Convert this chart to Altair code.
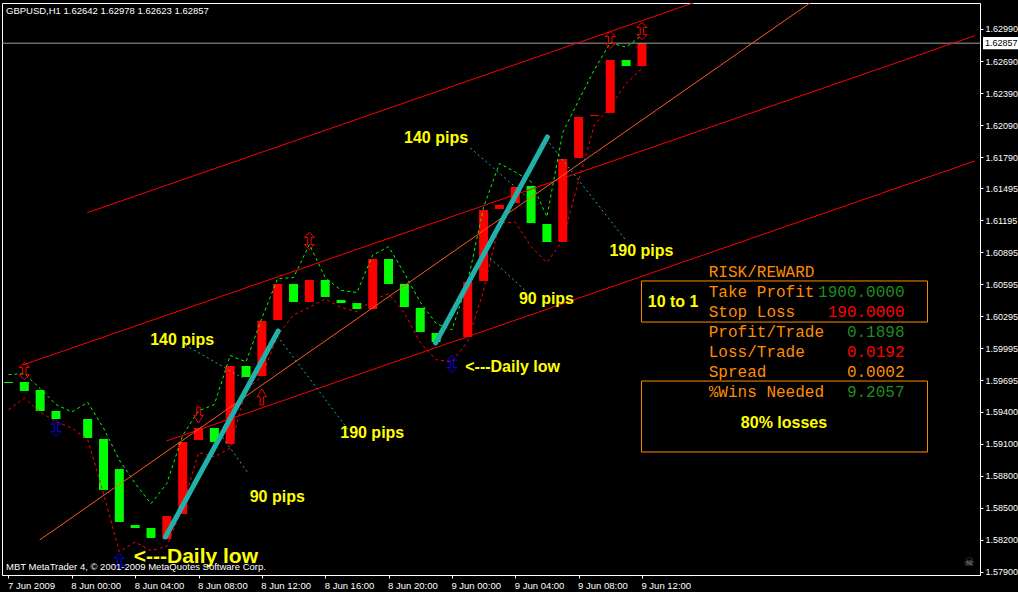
import json
import altair as alt
import pandas as pd

# ---- GBPUSD H1 bars, index 0 = 7 Jun 2009 20:00, index 40 = 9 Jun 2009 12:00 ----
bar_open = [1.59681, 1.59681, 1.59606, 1.59409, 1.59334, 1.59334, 1.59147, 1.58865, 1.58340, 1.58312,
            1.58209, 1.58444, 1.59137, 1.59250, 1.59100, 1.59831, 1.59737, 1.60262, 1.60600, 1.60431,
            1.60637, 1.60450, 1.60421, 1.60365, 1.60834, 1.60600, 1.60375, 1.60140, 1.60080, 1.60103,
            1.60628, 1.61303, 1.61359, 1.61518, 1.61162, 1.60993, 1.61781, 1.62174, 1.62203, 1.62699,
            1.62642]
bar_close = [1.59672, 1.59597, 1.59409, 1.59334, 1.59334, 1.59156, 1.58669, 1.58369, 1.58312, 1.58219,
             1.58425, 1.59119, 1.59250, 1.59119, 1.59831, 1.59728, 1.60253, 1.60600, 1.60431, 1.60637,
             1.60478, 1.60421, 1.60365, 1.60834, 1.60600, 1.60384, 1.60150, 1.60056, 1.60080, 1.60618,
             1.61293, 1.61340, 1.61509, 1.61171, 1.60993, 1.61771, 1.62165, 1.62184, 1.62699, 1.62643,
             1.62857]

# upper / lower envelope indicator (dashed)
band_high = [1.5975, 1.5976, 1.5962, 1.5947, 1.5940, 1.5949, 1.5925, 1.5895, 1.5873, 1.5854,
             1.5873, 1.5918, 1.5941, 1.5947, 1.5993, 1.5987, 1.6028, 1.6065, 1.6066, 1.6097,
             1.6066, 1.6054, 1.6052, 1.6087, 1.6095, 1.6070, 1.6043, 1.6023, 1.6017, 1.6062,
             1.6132, 1.6173, 1.6165, 1.6156, 1.6123, 1.6202, 1.6232, 1.6261, 1.6286, 1.6282,
             1.6293]
band_low = [1.5942, 1.5953, 1.5940, 1.5931, 1.5925, 1.5914, 1.5864, 1.5809, 1.5818, 1.5810,
            1.5814, 1.5851, 1.5902, 1.5898, 1.5906, 1.5961, 1.5973, 1.6012, 1.6031, 1.6038,
            1.6046, 1.6038, 1.6034, 1.6045, 1.6051, 1.6033, 1.6005, 1.5989, 1.5987, 1.6006,
            1.6054, 1.6117, 1.6118, 1.6095, 1.6080, 1.6101, 1.6157, 1.6209, 1.6226, 1.6248,
            1.6262]

# fractals
fractal_up_bar = [1, 19, 38, 40]
fractal_up_price = [1.59784, 1.61003, 1.62887, 1.62971]
fractal_dn_bar = [3, 7, 28]
fractal_dn_price = [1.59250, 1.57994, 1.59850]

# entry signal arrows
sell_arrow_bar, sell_arrow_price = [12], [1.59372]
buy_arrow_bar, buy_arrow_price = [16], [1.59540]

# axes
time_ticks = [0, 4, 8, 12, 16, 20, 24, 28, 32, 36, 40]
time_labels = ["7 Jun 2009", "8 Jun 00:00", "8 Jun 04:00", "8 Jun 08:00", "8 Jun 12:00",
               "8 Jun 16:00", "8 Jun 20:00", "9 Jun 00:00", "9 Jun 04:00", "9 Jun 08:00",
               "9 Jun 12:00"]
price_ticks = [1.62990, 1.62690, 1.62390, 1.62090, 1.61790, 1.61495, 1.61195, 1.60895, 1.60595,
               1.60295, 1.59995, 1.59695, 1.59400, 1.59100, 1.58800, 1.58500, 1.58200, 1.57900]
last_price = 1.62857

# trend lines: (bar, price) start and end
channel_lines = [
    ("top", 4.97, 1.61268, 47.00, 1.63428),
    ("mid", 0.90, 1.59840, 61.03, 1.62928),
    ("low", 9.97, 1.59128, 61.03, 1.61753),
]
steep_line = [("steep", 1.97, 1.58200, 52.00, 1.63378)]
impulse_lines = [
    ("imp1", 9.91, 1.58228, 17.03, 1.60159),
    ("imp2", 26.97, 1.60047, 34.03, 1.61978),
]
target_lines = [
    ("t1a", 11.16, 1.60028, 14.78, 1.59719),
    ("t1b", 16.97, 1.60112, 21.47, 1.59231),
    ("t1c", 13.53, 1.59162, 15.09, 1.58834),
    ("t2a", 29.16, 1.61875, 32.59, 1.61434),
    ("t2b", 34.16, 1.61921, 38.97, 1.61012),
    ("t2c", 30.41, 1.60843, 32.72, 1.60525),
]

# annotations
pip_text = ["140 pips", "190 pips", "90 pips", "140 pips", "190 pips", "90 pips", "10 to 1", "80% losses"]
pip_bar = [10.97, 22.97, 16.97, 27.00, 39.97, 33.97, 41.97, 48.97]
pip_price = [1.60075, 1.59203, 1.58603, 1.61968, 1.60909, 1.60459, 1.60431, 1.59297]
low_text = ["<---Daily low", "<---Daily low"]
low_bar = [7.91, 28.84]
low_price = [1.58040, 1.59822]
low_size = [21, 16]

info_labels = ["RISK/REWARD", "Take Profit", "Stop Loss", "Profit/Trade", "Loss/Trade", "Spread", "%Wins Needed"]
info_values = ["", "1900.0000", "190.0000", "0.1898", "0.0192", "0.0002", "9.2057"]
info_value_colors = ["#FF8C00", "#1E8C1E", "#FF0000", "#1E8C1E", "#FF0000", "#FF8C00", "#1E8C1E"]
info_row_price = [1.60712, 1.60525, 1.60337, 1.60150, 1.59962, 1.59775, 1.59587]
info_label_bar = 44.22
info_value_bar = 56.58
info_boxes = [(39.97, 58.03, 1.60628, 1.60243), (39.97, 58.03, 1.59690, 1.59025)]

# ---- scales and axes (identical on every layer so they merge cleanly) ----
xs = alt.Scale(domain=[-0.09375, 61.03125], nice=False, zero=False)
ys = alt.Scale(domain=[1.578717, 1.632337], nice=False, zero=False)
label_expr = json.dumps(time_labels) + "[round(datum.value / 4)]"

x_axis = alt.Axis(values=time_ticks, labelExpr=label_expr, title=None, grid=False,
                  tickSize=3, tickColor="white", domainColor="white", labelColor="white",
                  labelFont="Liberation Sans", labelFontSize=9.5, labelAlign="left",
                  labelBaseline="top", labelPadding=2, labelFlush=False, labelOverlap=False,
                  labelBound=False, labelOffset=-1)
y_axis = alt.Axis(orient="right", values=price_ticks, format=".5f", title=None, grid=False,
                  tickSize=3, tickColor="white", domainColor="white", labelColor="white",
                  labelFont="Liberation Sans", labelFontSize=9, labelPadding=2,
                  labelOverlap=False, labelFlush=False, labelBound=False)


def X(field):
    return alt.X(field, type="quantitative", scale=xs, axis=x_axis)


def Y(field):
    return alt.Y(field, type="quantitative", scale=ys, axis=y_axis)


def segs(rows):
    out = []
    for name, k0, p0, k1, p1 in rows:
        out.append({"id": name, "k": k0, "p": p0, "o": 0})
        out.append({"id": name, "k": k1, "p": p1, "o": 1})
    return pd.DataFrame(out)


bars = pd.DataFrame({
    "k": list(range(len(bar_open))),
    "open": bar_open,
    "close": bar_close,
})
bars["dir"] = ["up" if c > o else "down" for o, c in zip(bar_open, bar_close)]

bands = pd.DataFrame({"k": list(range(len(band_high))), "hi": band_high, "lo": band_low})

candles = alt.Chart(bars).mark_bar(size=9).encode(
    x=X("k"),
    y=Y("open"),
    y2="close",
    color=alt.Color("dir:N", scale=alt.Scale(domain=["up", "down"], range=["#FF0000", "#00FF00"]), legend=None),
)

price_line = alt.Chart(pd.DataFrame({"p": [last_price]})).mark_rule(color="#A0A0A0", strokeWidth=1).encode(
    y=Y("p"))

hi_line = alt.Chart(bands).mark_line(color="#00FF00", strokeWidth=1, strokeDash=[3, 3]).encode(
    x=X("k"), y=Y("hi"))
lo_line = alt.Chart(bands).mark_line(color="#FF0000", strokeWidth=1, strokeDash=[3, 3]).encode(
    x=X("k"), y=Y("lo"))

double_arrow = ("M0,-1 L0.6,-0.42 L0.2,-0.42 L0.2,0.42 L0.6,0.42 L0,1 L-0.6,0.42 "
                "L-0.2,0.42 L-0.2,-0.42 L-0.6,-0.42 Z")
down_arrow = "M-0.22,-1 L0.22,-1 L0.22,0.05 L0.6,0.05 L0,1 L-0.6,0.05 L-0.22,0.05 Z"
up_arrow = "M-0.22,1 L0.22,1 L0.22,-0.05 L0.6,-0.05 L0,-1 L-0.6,-0.05 L-0.22,-0.05 Z"

frac_up = alt.Chart(pd.DataFrame({"k": fractal_up_bar, "p": fractal_up_price})).mark_point(
    shape=double_arrow, size=290, filled=False, color="#FF0000", strokeWidth=1, opacity=1).encode(
    x=X("k"), y=Y("p"))
frac_dn = alt.Chart(pd.DataFrame({"k": fractal_dn_bar, "p": fractal_dn_price})).mark_point(
    shape=double_arrow, size=290, filled=False, color="#0000FF", strokeWidth=1, opacity=1).encode(
    x=X("k"), y=Y("p"))
sell_sig = alt.Chart(pd.DataFrame({"k": sell_arrow_bar, "p": sell_arrow_price})).mark_point(
    shape=down_arrow, size=256, filled=False, color="#FF0000", strokeWidth=1, opacity=1).encode(
    x=X("k"), y=Y("p"))
buy_sig = alt.Chart(pd.DataFrame({"k": buy_arrow_bar, "p": buy_arrow_price})).mark_point(
    shape=up_arrow, size=256, filled=False, color="#FF0000", strokeWidth=1, opacity=1).encode(
    x=X("k"), y=Y("p"))

chan = alt.Chart(segs(channel_lines)).mark_line(color="#FF0000", strokeWidth=1, clip=True).encode(
    x=X("k"), y=Y("p"), detail="id:N", order="o:Q")
steep = alt.Chart(segs(steep_line)).mark_line(color="#FF5A1E", strokeWidth=1, clip=True).encode(
    x=X("k"), y=Y("p"), detail="id:N", order="o:Q")
targets = alt.Chart(segs(target_lines)).mark_line(color="#20B2AA", strokeWidth=1, strokeDash=[2, 3]).encode(
    x=X("k"), y=Y("p"), detail="id:N", order="o:Q")
impulse = alt.Chart(segs(impulse_lines)).mark_line(color="#20B2AA", strokeWidth=5, strokeCap="round").encode(
    x=X("k"), y=Y("p"), detail="id:N", order="o:Q")

pips = alt.Chart(pd.DataFrame({"k": pip_bar, "p": pip_price, "t": pip_text})).mark_text(
    color="#FFFF00", font="Liberation Sans", fontSize=16, fontWeight="bold",
    align="center", baseline="middle").encode(
    x=X("k"), y=Y("p"), text="t:N")
lows = alt.Chart(pd.DataFrame({"k": low_bar, "p": low_price, "t": low_text, "s": low_size})).mark_text(
    color="#FFFF00", font="Liberation Sans", fontWeight="bold", align="left", baseline="middle",
    clip=True).encode(
    x=X("k"), y=Y("p"), text="t:N", size=alt.Size("s:Q", scale=None, legend=None))

info_df = pd.DataFrame({"p": info_row_price, "label": info_labels, "value": info_values,
                        "vc": info_value_colors})
info_df["kl"] = info_label_bar
info_df["kv"] = info_value_bar
info_lab = alt.Chart(info_df).mark_text(
    color="#FF8C00", font="Liberation Mono", fontSize=16, align="left", baseline="middle").encode(
    x=X("kl"), y=Y("p"), text="label:N")
info_val = alt.Chart(info_df).mark_text(
    font="Liberation Mono", fontSize=16, align="right", baseline="middle").encode(
    x=X("kv"), y=Y("p"), text="value:N", color=alt.Color("vc:N", scale=None))
boxes = alt.Chart(pd.DataFrame(info_boxes, columns=["k0", "k1", "p0", "p1"])).mark_rect(
    filled=False, stroke="#FF8C00", strokeWidth=1).encode(
    x=X("k0"), x2="k1", y=Y("p0"), y2="p1")

# current price tag on the price scale
tag_df = pd.DataFrame({"p": [last_price], "t": [f"{last_price:.5f}"],
                       "p0": [last_price - 0.00058], "p1": [last_price + 0.00058]})
tag_box = alt.Chart(tag_df).mark_rect(color="white", clip=False).encode(
    x=alt.value(981), x2=alt.value(1016), y=Y("p0"), y2="p1")
tag_txt = alt.Chart(tag_df).mark_text(color="black", font="Liberation Sans", fontSize=9,
                                      align="left", baseline="middle", clip=False).encode(
    x=alt.value(983), y=Y("p"), text="t:N")

header = alt.Chart(pd.DataFrame({"t": ["GBPUSD,H1  1.62642 1.62978 1.62623 1.62857"]})).mark_text(
    color="white", font="Liberation Sans", fontSize=9.5, align="left", baseline="middle").encode(
    x=alt.value(4), y=alt.value(8), text="t:N")
footer = alt.Chart(pd.DataFrame({"t": ["MBT MetaTrader 4, \u00a9 2001-2009 MetaQuotes Software Corp."]})).mark_text(
    color="white", font="Liberation Sans", fontSize=9.5, align="left", baseline="middle").encode(
    x=alt.value(4), y=alt.value(564), text="t:N")
icon = alt.Chart(pd.DataFrame({"t": ["\u2620"]})).mark_text(
    color="#8A8A8A", font="DejaVu Sans", fontSize=12, align="center", baseline="middle").encode(
    x=alt.value(967), y=alt.value(559), text="t:N")

chart = alt.layer(
    candles, price_line, hi_line, lo_line, frac_up, frac_dn, sell_sig, buy_sig,
    chan, steep, targets, impulse, pips, lows, boxes, info_lab, info_val,
    tag_box, tag_txt, header, footer, icon,
).properties(
    width=978, height=572,
    padding={"left": 2, "top": 3, "right": 38, "bottom": 17},
    autosize=alt.AutoSizeParams(type="none"),
    background="black",
).configure_view(stroke="white", strokeWidth=1)

chart.save("out.html", embed_options={"renderer": "svg", "actions": False})
